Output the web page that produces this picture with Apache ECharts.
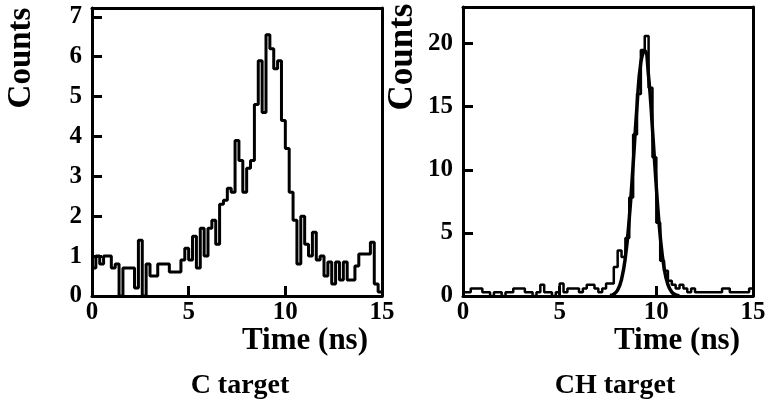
<!DOCTYPE html>
<html>
<head>
<meta charset="utf-8">
<script src="https://cdn.jsdelivr.net/npm/echarts@6/dist/echarts.min.js"></script>
<style>html,body{margin:0;padding:0;background:#fff}#c{width:771px;height:407px}</style>
</head>
<body>
<div id="c"></div>
<script>
// ---- data ----
const binWidth = 0.2;
const timeEnd = 15;
const cTargetCounts = [
  0.7, 1.0, 0.8, 1.0, 1.0, 0.7, 0.8, 0.0, 0.7, 0.7,
  0.7, 0.2, 1.4, 0.0, 0.8, 0.5, 0.5, 0.8, 0.8, 0.8,
  0.6, 0.6, 0.6, 0.9, 1.2, 0.9, 1.5, 0.7, 1.7, 1.0,
  1.7, 1.9, 1.3, 2.3, 2.4, 2.7, 2.6, 3.9, 3.4, 2.6,
  3.2, 3.4, 4.8, 5.9, 4.6, 6.55, 6.2, 5.7, 5.9, 4.4,
  3.7, 2.6, 1.9, 0.8, 2.0, 1.3, 1.0, 1.6, 0.9, 1.0,
  0.5, 0.85, 0.3, 0.85, 0.4, 0.85, 0.4, 0.4, 0.75, 1.05,
  1.05, 1.05, 1.35, 0.3, 0.1
];
const chTargetCounts = [
  0.3, 0.3, 0.6, 0.6, 0.6, 0.3, 0.3, 0.0, 0.3, 0.3,
  0.0, 0.3, 0.3, 0.6, 0.6, 0.6, 0.3, 0.3, 0.0, 0.3,
  0.9, 0.3, 0.3, 0.0, 0.3, 1.0, 0.3, 0.6, 0.6, 0.6,
  0.3, 0.6, 0.9, 0.9, 0.6, 0.3, 0.6, 1.0, 1.0, 2.3,
  3.6, 3.1, 4.6, 7.8, 12.8, 16.0, 19.5, 20.6, 16.5, 11.0,
  5.8, 2.8, 2.0, 1.2, 0.9, 0.6, 0.9, 0.6, 0.3, 0.6,
  0.3, 0.3, 0.3, 0.3, 0.3, 0.3, 0.3, 0.6, 0.6, 0.3,
  0.3, 0.3, 0.3, 0.3, 0.6
];
const fitTime   = [7.6, 7.8, 8.0, 8.2, 8.4, 8.6, 8.8, 9.0, 9.2, 9.4, 9.6, 9.8, 10.0, 10.2, 10.4, 10.6, 10.8, 11.0, 11.2];
const fitCounts = [0.04, 0.15, 0.48, 1.32, 3.09, 6.14, 10.42, 15.05, 18.53, 19.44, 17.38, 13.24, 8.60, 4.77, 2.24, 0.90, 0.31, 0.09, 0.02];
const xTickLabels = [0, 5, 10, 15];
const xTickMarks = [5, 10];
const yTicksC = [0, 1, 2, 3, 4, 5, 6, 7];
const yTicksCH = [0, 5, 10, 15, 20];
const yMaxC = 7.22;
const yMaxCH = 22.9;

function histPoints(counts) {
  const pts = counts.map((v, i) => [+(i * binWidth).toFixed(2), v]);
  pts.push([timeEnd, counts[counts.length - 1]]);
  return pts;
}

const FONT = '"Liberation Serif", "Times New Roman", serif';
const axisLine = { show: true, onZero: false, lineStyle: { color: '#000', width: 3 } };
const labelStyle = { color: '#000', fontFamily: FONT, fontWeight: 'bold', fontSize: 25 };

function xAxes(gi) {
  return [
    { type: 'value', gridIndex: gi, min: 0, max: 15, position: 'bottom',
      axisLine: axisLine, splitLine: { show: false },
      axisTick: { show: true, inside: true, length: 10, customValues: xTickMarks, lineStyle: { color: '#000', width: 3 } },
      axisLabel: Object.assign({ margin: 4, customValues: xTickLabels, showMinLabel: true, showMaxLabel: true }, labelStyle) },
    { type: 'value', gridIndex: gi, min: 0, max: 15, position: 'top',
      axisLine: axisLine, splitLine: { show: false }, axisTick: { show: false }, axisLabel: { show: false } }
  ];
}
function yAxes(gi, max, ticks) {
  return [
    { type: 'value', gridIndex: gi, min: 0, max: max, position: 'left',
      axisLine: axisLine, splitLine: { show: false },
      axisTick: { show: true, inside: true, length: 10, customValues: ticks, lineStyle: { color: '#000', width: 3 } },
      axisLabel: Object.assign({ margin: 10, customValues: ticks }, labelStyle) },
    { type: 'value', gridIndex: gi, min: 0, max: max, position: 'right',
      axisLine: axisLine, splitLine: { show: false }, axisTick: { show: false }, axisLabel: { show: false } }
  ];
}

const chart = echarts.init(document.getElementById('c'), null, { renderer: 'canvas' });
const bold = (size) => 'bold ' + size + 'px ' + FONT;

chart.setOption({
  animation: false,
  backgroundColor: '#fff',
  grid: [
    { left: 92, top: 8, width: 290, height: 288 },
    { left: 463, top: 7, width: 290, height: 289 }
  ],
  xAxis: [].concat(xAxes(0), xAxes(1)),
  yAxis: [].concat(yAxes(0, yMaxC, yTicksC), yAxes(1, yMaxCH, yTicksCH)),
  series: [
    { type: 'line', xAxisIndex: 0, yAxisIndex: 0, step: 'end', data: histPoints(cTargetCounts),
      showSymbol: false, lineStyle: { color: '#000', width: 3 } },
    { type: 'line', xAxisIndex: 2, yAxisIndex: 2, step: 'end', data: histPoints(chTargetCounts),
      showSymbol: false, lineStyle: { color: '#000', width: 2.5 } },
    { type: 'line', xAxisIndex: 2, yAxisIndex: 2, smooth: true,
      data: fitTime.map((t, i) => [t, fitCounts[i]]),
      showSymbol: false, lineStyle: { color: '#000', width: 3.5 } }
  ],
  graphic: [
    { type: 'text', x: 21, y: 58, rotation: Math.PI / 2,
      style: { text: 'Counts', font: bold(33), fill: '#000', textAlign: 'center', textVerticalAlign: 'middle' } },
    { type: 'text', x: 403, y: 57, rotation: Math.PI / 2,
      style: { text: 'Counts', font: bold(35), fill: '#000', textAlign: 'center', textVerticalAlign: 'middle' } },
    { type: 'text', x: 305, y: 341,
      style: { text: 'Time (ns)', font: bold(31), fill: '#000', textAlign: 'center', textVerticalAlign: 'middle' } },
    { type: 'text', x: 677, y: 341,
      style: { text: 'Time (ns)', font: bold(31), fill: '#000', textAlign: 'center', textVerticalAlign: 'middle' } },
    { type: 'text', x: 240, y: 386,
      style: { text: 'C target', font: bold(28), fill: '#000', textAlign: 'center', textVerticalAlign: 'middle' } },
    { type: 'text', x: 615, y: 386,
      style: { text: 'CH target', font: bold(28), fill: '#000', textAlign: 'center', textVerticalAlign: 'middle' } }
  ]
});
</script>
</body>
</html>
